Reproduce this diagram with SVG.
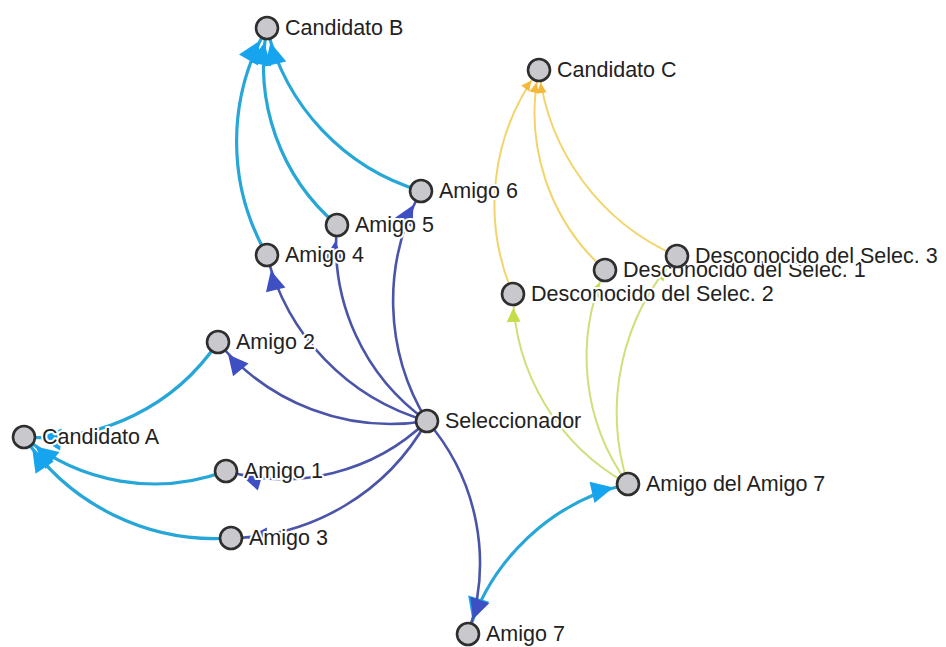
<svg xmlns="http://www.w3.org/2000/svg" width="946" height="647" viewBox="0 0 946 647">
  <defs>
    <style>
      .link { fill: none; }
      .navy { stroke: #4a54a8; stroke-width: 2.6; }
      .sky { stroke: #27a6d8; stroke-width: 3.2; }
      .gold { stroke: #f2d46a; stroke-width: 2; }
      .lime { stroke: #cde07a; stroke-width: 2; }
      .node circle { fill: #c9c8cc; stroke: #2e2e2e; stroke-width: 2.6; }
      .node text {
        font-family: "Liberation Sans", Arial, sans-serif;
        font-size: 21.5px;
        fill: #222;
        stroke: #fff;
        stroke-width: 4px;
        stroke-linejoin: round;
        paint-order: stroke;
      }
    </style>
    <marker id="arrow-navy" viewBox="0 -5 10 10" refX="18" refY="0" markerWidth="20" markerHeight="20" markerUnits="userSpaceOnUse" orient="auto" overflow="visible">
      <path d="M0,-5L10,0L0,5Z" fill="#3d4fc2"/>
    </marker>
    <marker id="arrow-sky" viewBox="0 -5 10 10" refX="16.8" refY="0" markerWidth="22" markerHeight="22" markerUnits="userSpaceOnUse" orient="auto-start-reverse" overflow="visible">
      <path d="M0,-5L10,0L0,5Z" fill="#17a4ee"/>
    </marker>
    <marker id="arrow-gold" viewBox="0 -5 10 10" refX="23" refY="0" markerWidth="10" markerHeight="10" markerUnits="userSpaceOnUse" orient="auto" overflow="visible">
      <path d="M0,-5L10,0L0,5Z" fill="#f5b83a"/>
    </marker>
    <marker id="arrow-lime" viewBox="0 -5 10 10" refX="20" refY="0" markerWidth="14" markerHeight="14" markerUnits="userSpaceOnUse" orient="auto" overflow="visible">
      <path d="M0,-5L10,0L0,5Z" fill="#c6dc48"/>
    </marker>
  </defs>

  <rect width="946" height="647" fill="#fff"/>

  <!-- arcs: each link is a circular arc whose radius equals the chord length -->
  <g id="links">
    <path class="link gold" marker-end="url(#arrow-gold)" d="M605,270 A210.6,210.6 0 0,1 539,70"/>
    <path class="link gold" marker-end="url(#arrow-gold)" d="M513,294 A225.5,225.5 0 0,1 539,70"/>
    <path class="link gold" marker-end="url(#arrow-gold)" d="M677,256 A231.6,231.6 0 0,1 539,70"/>

    <path class="link lime" marker-end="url(#arrow-lime)" d="M628,484 A215.2,215.2 0 0,1 605,270"/>
    <path class="link lime" marker-end="url(#arrow-lime)" d="M628,484 A222.1,222.1 0 0,1 513,294"/>
    <path class="link lime" marker-end="url(#arrow-lime)" d="M628,484 A233.2,233.2 0 0,1 677,256"/>

    <path class="link sky" marker-end="url(#arrow-sky)" d="M226,471 A204.8,204.8 0 0,1 24,437"/>
    <path class="link sky" marker-end="url(#arrow-sky)" d="M218,342 A216,216 0 0,1 24,437"/>
    <path class="link sky" marker-end="url(#arrow-sky)" d="M231,538 A230.3,230.3 0 0,1 24,437"/>
    <path class="link sky" marker-end="url(#arrow-sky)" d="M267,255 A227,227 0 0,1 267,28"/>
    <path class="link sky" marker-end="url(#arrow-sky)" d="M337,225 A209.1,209.1 0 0,1 267,28"/>
    <path class="link sky" marker-end="url(#arrow-sky)" d="M421,191 A224.2,224.2 0 0,1 267,28"/>
    <path class="link sky" marker-start="url(#arrow-sky)" marker-end="url(#arrow-sky)" d="M468,634 A219.3,219.3 0 0,1 628,484"/>

    <path class="link navy" marker-end="url(#arrow-navy)" d="M427,421 A207.1,207.1 0 0,1 226,471"/>
    <path class="link navy" marker-end="url(#arrow-navy)" d="M427,421 A223.4,223.4 0 0,1 218,342"/>
    <path class="link navy" marker-end="url(#arrow-navy)" d="M427,421 A228.3,228.3 0 0,1 231,538"/>
    <path class="link navy" marker-end="url(#arrow-navy)" d="M427,421 A230.6,230.6 0 0,1 267,255"/>
    <path class="link navy" marker-end="url(#arrow-navy)" d="M427,421 A215.7,215.7 0 0,1 337,225"/>
    <path class="link navy" marker-end="url(#arrow-navy)" d="M427,421 A230.1,230.1 0 0,1 421,191"/>
    <path class="link navy" marker-end="url(#arrow-navy)" d="M427,421 A216.9,216.9 0 0,1 468,634"/>
  </g>

  <g id="candidato-b" class="node"><circle cx="267" cy="28" r="11"/><text x="285" y="35">Candidato B</text></g>
  <g id="candidato-c" class="node"><circle cx="539" cy="70" r="11"/><text x="557" y="77">Candidato C</text></g>
  <g id="amigo-6" class="node"><circle cx="421" cy="191" r="11"/><text x="439" y="198">Amigo 6</text></g>
  <g id="amigo-4" class="node"><circle cx="267" cy="255" r="11"/><text x="285" y="262">Amigo 4</text></g>
  <g id="amigo-5" class="node"><circle cx="337" cy="225" r="11"/><text x="355" y="232">Amigo 5</text></g>
  <g id="desconocido-2" class="node"><circle cx="513" cy="294" r="11"/><text x="531" y="301">Desconocido del Selec. 2</text></g>
  <g id="desconocido-1" class="node"><circle cx="605" cy="270" r="11"/><text x="623" y="277">Desconocido del Selec. 1</text></g>
  <g id="desconocido-3" class="node"><circle cx="677" cy="256" r="11"/><text x="695" y="263">Desconocido del Selec. 3</text></g>
  <g id="amigo-2" class="node"><circle cx="218" cy="342" r="11"/><text x="236" y="349">Amigo 2</text></g>
  <g id="candidato-a" class="node"><circle cx="24" cy="437" r="11"/><text x="42" y="444">Candidato A</text></g>
  <g id="amigo-1" class="node"><circle cx="226" cy="471" r="11"/><text x="244" y="478">Amigo 1</text></g>
  <g id="amigo-3" class="node"><circle cx="231" cy="538" r="11"/><text x="249" y="545">Amigo 3</text></g>
  <g id="seleccionador" class="node"><circle cx="427" cy="421" r="11"/><text x="445" y="428">Seleccionador</text></g>
  <g id="amigo-del-amigo-7" class="node"><circle cx="628" cy="484" r="11"/><text x="646" y="491">Amigo del Amigo 7</text></g>
  <g id="amigo-7" class="node"><circle cx="468" cy="634" r="11"/><text x="486" y="641">Amigo 7</text></g>
</svg>
